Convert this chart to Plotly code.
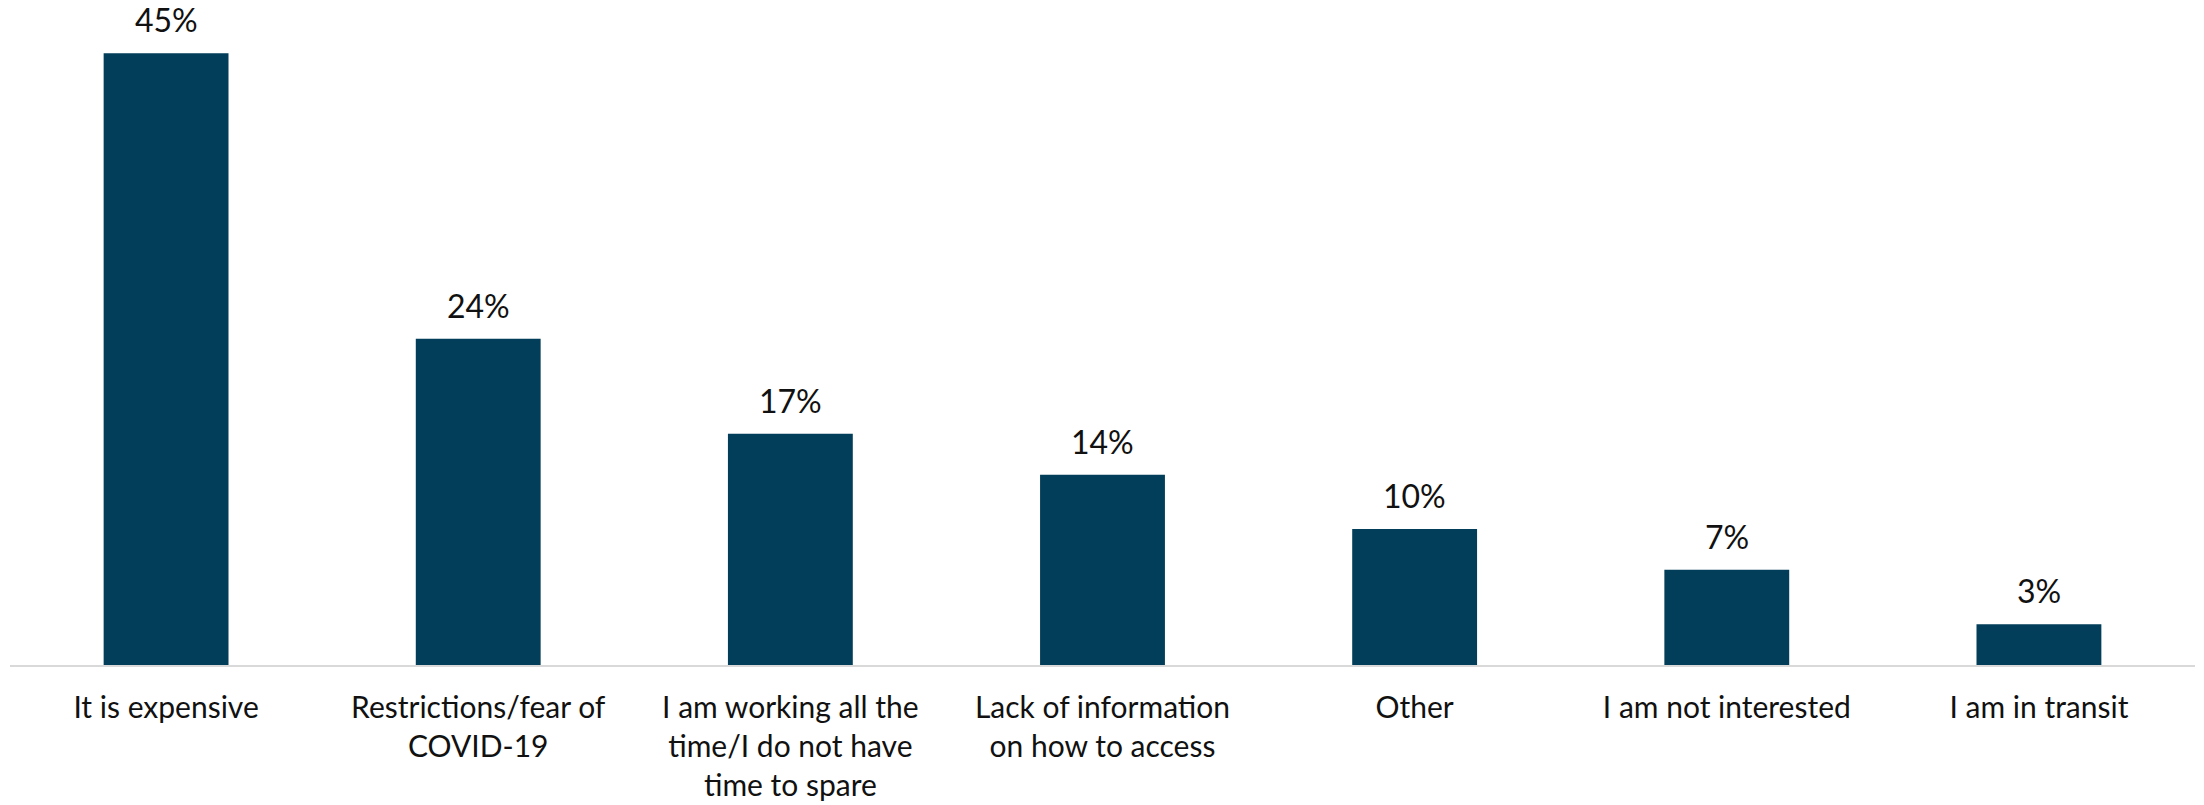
import plotly.graph_objects as go

categories = [
    "It is expensive",
    "Restrictions/fear of<br>COVID-19",
    "I am working all the<br>time/I do not have<br>time to spare",
    "Lack of information<br>on how to access",
    "Other",
    "I am not interested",
    "I am in transit",
]
values = [45, 24, 17, 14, 10, 7, 3]
labels = [f"{v}%" for v in values]

FONT = "Lato"

fig = go.Figure(
    go.Bar(
        x=categories,
        y=values,
        marker=dict(color="#023d59", line=dict(width=0)),
        hoverinfo="x+y",
    )
)

for c, v, t in zip(categories, values, labels):
    fig.add_annotation(
        x=c, y=v, text=t, showarrow=False,
        yanchor="bottom", yshift=12,
        font=dict(size=32, color="#111111", family=FONT),
    )

fig.update_layout(
    width=2204,
    height=805,
    margin=dict(l=10, r=9, t=26, b=140, autoexpand=False),
    plot_bgcolor="white",
    paper_bgcolor="white",
    bargap=0.6,
    showlegend=False,
    font=dict(family=FONT, size=30, color="#111111"),
)
fig.update_xaxes(
    automargin=False,
    showline=True,
    linecolor="#d9d9d9",
    linewidth=2,
    ticks="outside",
    ticklen=15,
    tickcolor="rgba(0,0,0,0)",
    tickfont=dict(size=30, family=FONT, color="#111111"),
)
fig.update_yaxes(
    automargin=False,
    range=[0, 47],
    visible=False,
    showgrid=False,
    zeroline=False,
)

fig.write_html(
    "out.html",
    config={"displayModeBar": False},
    post_script="document.body.style.margin='0';document.body.style.overflow='hidden';",
)
